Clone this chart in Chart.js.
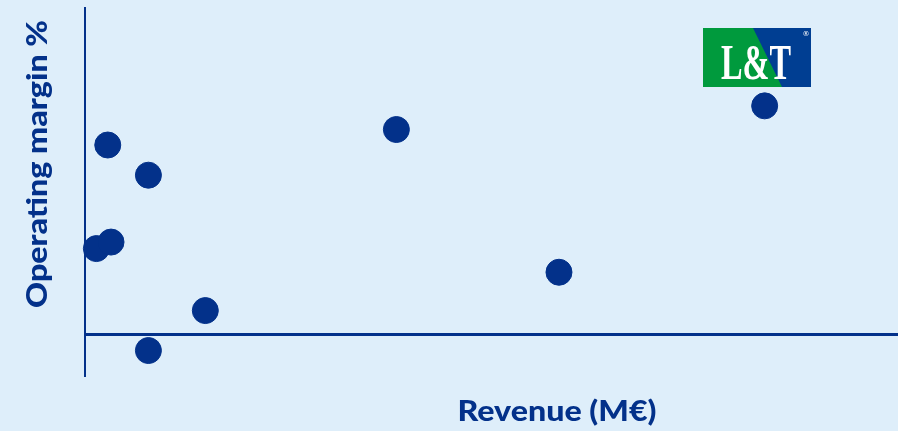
<!DOCTYPE html>
<html>
<head>
<meta charset="utf-8">
<script src="https://cdn.jsdelivr.net/npm/chart.js@4"></script>
<style>
  body { margin: 0; background: #deeefa; }
  canvas { display: block; }
</style>
</head>
<body>
<canvas id="chart" width="898" height="431"></canvas>
<script>
// Revenue (M€) and operating margin (%) per company - no ticks in the source, values are read off the grid
const revenue = [1.4, 3.2, 2.8, 7.8, 7.8, 14.8, 38.3, 58.3, 83.6];
const margin  = [10.5, 11.3, 23.2, 19.5, -2.0, 2.9, 25.1, 7.6, 28.0];

const xTitle = 'Revenue (M€)';
const yTitle = 'Operating margin %';

const dark = '#03318a';

const points = revenue.map((r, i) => ({ x: r, y: margin[i] }));

// draw text squeezed/stretched to a given width
function fitText(ctx, text, width) {
    const w = ctx.measureText(text).width;
    ctx.save();
    ctx.scale(width / w, 1);
    ctx.fillText(text, 0, 0);
    ctx.restore();
}

// Axis titles and the L&T logo
const decorPlugin = {
    id: 'decor',
    afterDraw(chart) {
        const ctx = chart.ctx;
        ctx.save();
        ctx.fillStyle = dark;
        ctx.font = '900 29px Lato';
        ctx.textAlign = 'center';
        ctx.textBaseline = 'middle';
        ctx.save();
        ctx.translate(557, 412);
        fitText(ctx, xTitle, 199);
        ctx.restore();

        ctx.translate(38, 164);
        ctx.rotate(-Math.PI / 2);
        fitText(ctx, yTitle, 288);
        ctx.restore();

        // logo
        ctx.save();
        ctx.fillStyle = '#003e92';
        ctx.fillRect(703, 28, 108, 59);
        ctx.fillStyle = '#009a3d';
        ctx.beginPath();
        ctx.moveTo(703, 28);
        ctx.lineTo(753, 28);
        ctx.lineTo(782, 87);
        ctx.lineTo(703, 87);
        ctx.closePath();
        ctx.fill();

        ctx.fillStyle = '#ffffff';
        ctx.font = 'bold 50px "Liberation Serif"';
        ctx.textAlign = 'left';
        ctx.textBaseline = 'alphabetic';
        ctx.translate(721, 79);
        fitText(ctx, 'L&T', 70);
        ctx.restore();

        ctx.save();
        ctx.fillStyle = '#ffffff';
        ctx.font = '7px "DejaVu Sans"';
        ctx.textAlign = 'center';
        ctx.textBaseline = 'middle';
        ctx.fillText('®', 806, 34);
        ctx.restore();
    }
};

new Chart(document.getElementById('chart'), {
    type: 'scatter',
    data: {
        datasets: [{
            data: points,
            backgroundColor: dark,
            borderColor: dark,
            pointRadius: 13,
            pointHoverRadius: 13,
            clip: false
        }]
    },
    options: {
        responsive: false,
        animation: false,
        devicePixelRatio: 1,
        layout: { autoPadding: false, padding: { top: 8, right: 0, left: 0, bottom: 0 } },
        plugins: {
            legend: { display: false },
            tooltip: { enabled: false }
        },
        scales: {
            x: {
                type: 'linear',
                min: 0,
                max: 100,
                grid: { display: false },
                border: { display: false },
                ticks: { display: false },
                afterFit(scale) { scale.height = 56; }
            },
            y: {
                type: 'linear',
                min: -5,
                max: 40,
                ticks: { display: false, stepSize: 5 },
                grid: {
                    drawTicks: false,
                    color: c => (c.tick && c.tick.value === 0) ? dark : 'rgba(0,0,0,0)',
                    lineWidth: 3
                },
                border: { display: true, color: dark, width: 2 },
                afterFit(scale) { scale.width = 85; }
            }
        }
    },
    plugins: [decorPlugin]
});
</script>
</body>
</html>
